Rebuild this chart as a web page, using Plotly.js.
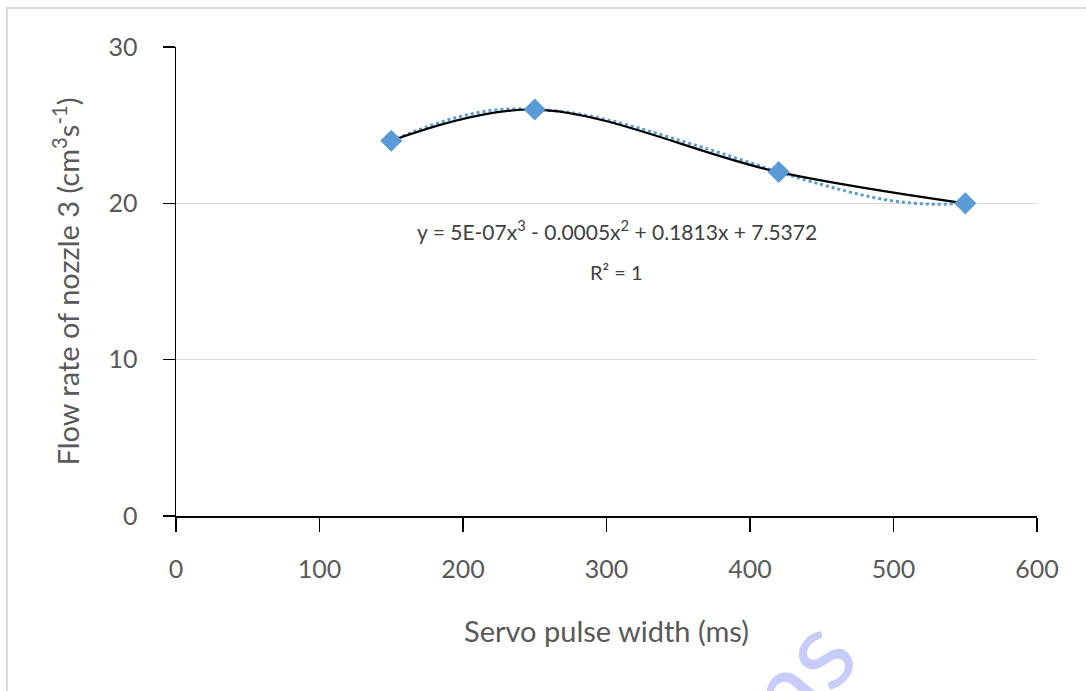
<!DOCTYPE html>
<html>
<head>
<meta charset="utf-8">
<script src="https://cdn.plot.ly/plotly-3.0.1.min.js"></script>
<style>html,body{margin:0;padding:0;background:#fff;}#chart{width:1086px;height:691px;}</style>
</head>
<body>
<div id="chart"></div>
<script>
// Measured data points
const pulseWidth = [150, 250, 420, 550];
const flowRate = [24, 26, 22, 20];

// Polynomial trendline
const trendX = [150, 175, 200, 225, 250, 275, 300, 325, 350, 375, 400, 420, 450, 475, 500, 525, 550];
const trendY = [24.0, 24.9, 25.6, 26.0, 26.0, 25.8, 25.35, 24.75, 24.05, 23.35, 22.6, 22.0, 21.2, 20.6, 20.15, 19.95, 20.0];

const xTicks = [0, 100, 200, 300, 400, 500, 600];
const yTicks = [0, 10, 20, 30];

const equationText = "y = 5E-07x<sup>3</sup> - 0.0005x<sup>2</sup> + 0.1813x + 7.5372";
const r2Text = "R² = 1";
const xTitle = "Servo pulse width (ms)";
const yTitle = "Flow rate of nozzle 3 (cm<sup>3</sup>s<sup>-1</sup>)";
const watermark = "ms";

const FONT = "Lato, 'Open Sans', sans-serif";
const GREY = "#595959";

const traces = [
  {
    x: trendX, y: trendY, type: "scatter", mode: "lines",
    line: {color: "#5B9BD5", width: 3, dash: "dot", shape: "spline", smoothing: 1},
    hoverinfo: "skip", showlegend: false
  },
  {
    x: pulseWidth, y: flowRate, type: "scatter", mode: "lines+markers",
    line: {color: "#000000", width: 2.2, shape: "spline", smoothing: 1},
    marker: {symbol: "diamond", size: 17, color: "#5B9BD5"},
    showlegend: false
  }
];

const layout = {
  width: 1086, height: 691,
  margin: {l: 176, r: 49, t: 47, b: 175},
  paper_bgcolor: "#ffffff", plot_bgcolor: "#ffffff",
  font: {family: FONT, color: GREY},
  showlegend: false,
  xaxis: {
    range: [0, 600], tickvals: xTicks, ticktext: xTicks.map(String),
    showgrid: false, zeroline: false,
    showline: true, linecolor: "#000000", linewidth: 1.5,
    ticks: "outside", ticklen: 14, tickwidth: 1.2, tickcolor: "#000000",
    tickfont: {family: FONT, size: 25, color: GREY},
    ticklabelstandoff: 16,
    title: {text: xTitle, font: {family: FONT, size: 29, color: GREY}, standoff: 40},
    automargin: false, fixedrange: true
  },
  yaxis: {
    range: [0, 30], tickvals: yTicks, ticktext: yTicks.map(String),
    showgrid: true, gridcolor: "#d9d9d9", gridwidth: 1.2, zeroline: false,
    showline: true, linecolor: "#000000", linewidth: 1.5,
    ticks: "outside", ticklen: 12, tickwidth: 1.2, tickcolor: "#000000",
    tickfont: {family: FONT, size: 25, color: GREY},
    ticklabelstandoff: 20,
    title: {text: yTitle, font: {family: FONT, size: 29, color: GREY}, standoff: 20},
    automargin: false, fixedrange: true
  },
  annotations: [
    {xref: "x", yref: "y", x: 307, y: 18.3, text: equationText, showarrow: false,
     font: {family: FONT, size: 21, color: "#404040"}, xanchor: "center"},
    {xref: "x", yref: "y", x: 307, y: 15.6, text: r2Text, showarrow: false,
     font: {family: FONT, size: 20, color: "#404040"}, xanchor: "center"},
    {xref: "paper", yref: "paper", x: 0.707, y: -0.36, text: watermark, showarrow: false,
     font: {family: FONT, size: 110, color: "#c8ccfa"}, textangle: -50, xanchor: "center", yanchor: "middle"}
  ],
  shapes: [
    {type: "rect", xref: "paper", yref: "paper", x0: -0.1963, x1: 1.08, y0: -0.45, y1: 1.0832,
     line: {color: "#d9d9d9", width: 2}, fillcolor: "rgba(0,0,0,0)", layer: "below"}
  ]
};

Plotly.newPlot("chart", traces, layout, {displayModeBar: false, staticPlot: true});
</script>
</body>
</html>
